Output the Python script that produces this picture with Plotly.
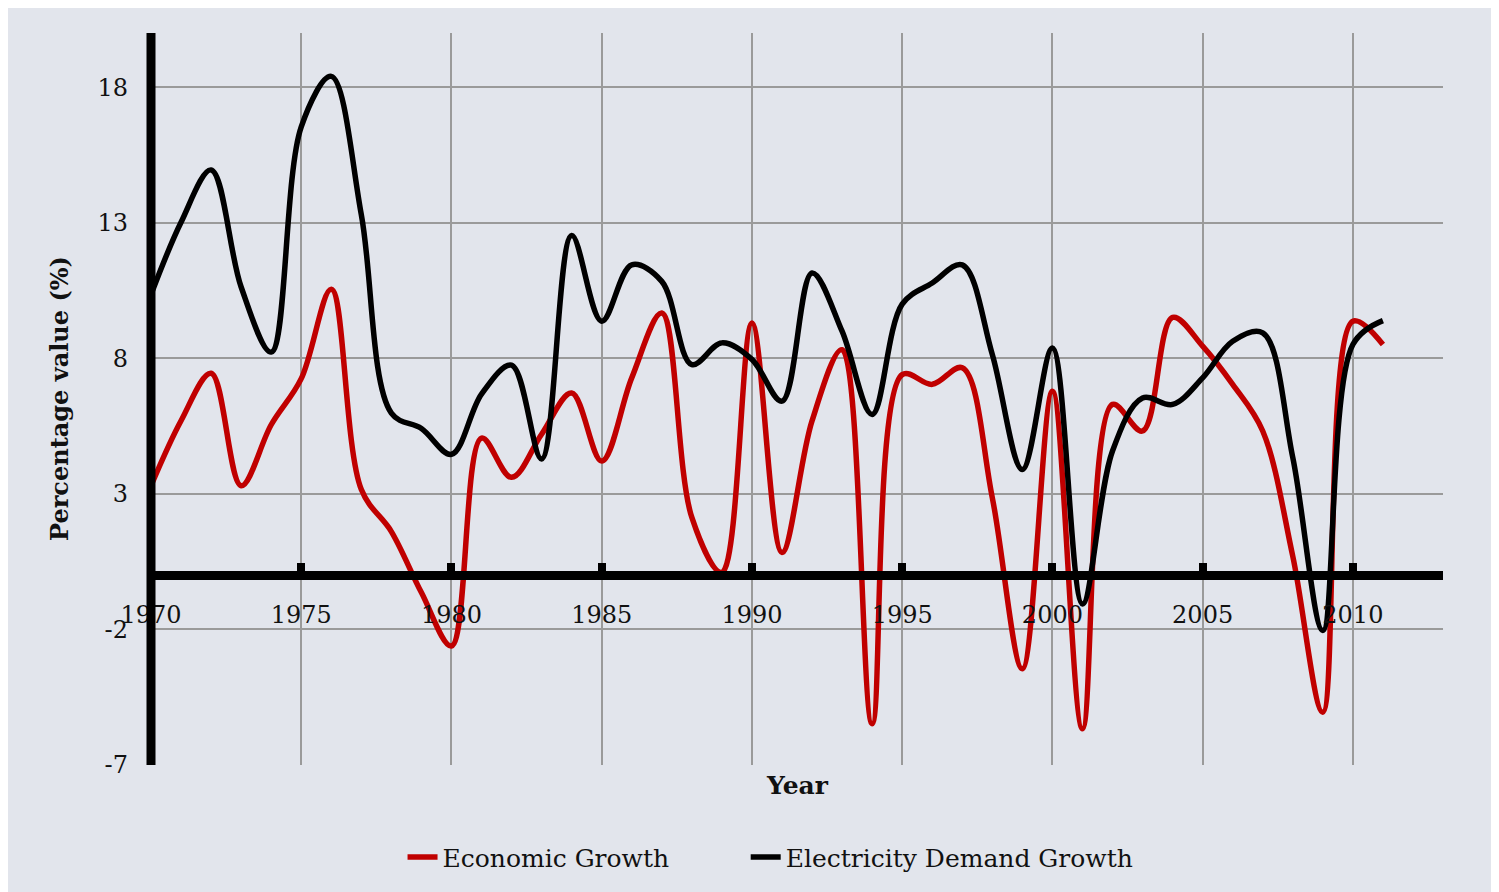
import plotly.graph_objects as go

years = list(range(1970, 2012))
economic_growth = [3.3, 5.7, 7.45, 3.3, 5.55, 7.25, 10.55, 3.16, 1.61, -0.64,
                   -2.61, 5.06, 3.61, 5.2, 6.72, 4.21, 7.28, 9.67, 2.13, 0.1,
                   9.3, 0.84, 5.69, 8.32, -5.48, 7.4, 7.04, 7.65, 2.86, -3.45,
                   6.79, -5.66, 6.3, 5.32, 9.51, 8.45, 7.04, 5.32, 0.7, -5.05,
                   9.37, 8.51]
electricity_growth = [10.35, 13.02, 14.95, 10.63, 8.23, 16.54, 18.4, 13.3, 5.98, 5.41,
                      4.46, 6.68, 7.75, 4.29, 12.53, 9.37, 11.45, 10.84, 7.77, 8.57,
                      7.96, 6.42, 11.15, 9.0, 5.93, 10.0, 10.78, 11.45, 8.14, 3.9,
                      8.38, -1.06, 4.58, 6.54, 6.3, 7.28, 8.63, 8.94, 4.34, -2.04,
                      8.51, 9.39]
y_ticks = [-7, -2, 3, 8, 13, 18]
y_tick_labels = ["-7", "-2", "3", "8", "13", "18"]
x_ticks = list(range(1970, 2011, 5))

BG = "#e2e5ec"
FONT = "DejaVu Serif"
NBSP = "\u00a0"

fig = go.Figure()
fig.add_trace(go.Scatter(x=years, y=economic_growth, mode="lines", name="Economic Growth" + NBSP * 9,
                         line=dict(color="#c00000", width=5.5, shape="spline", smoothing=1.0)))
fig.add_trace(go.Scatter(x=years, y=electricity_growth, mode="lines", name="Electricity Demand Growth",
                         line=dict(color="#000000", width=5.5, shape="spline", smoothing=1.0)))

ymin, ymax = -7, 20
fig.update_layout(
    width=1499, height=892,
    paper_bgcolor=BG, plot_bgcolor=BG,
    margin=dict(l=143, r=64, t=25, b=135),
    font=dict(family=FONT, size=24, color="#111111"),
    showlegend=True,
    legend=dict(orientation="h", xref="container", yref="container", x=0.5087, y=0.048,
                xanchor="center", yanchor="middle", font=dict(family=FONT, size=25, color="#111111"),
                bgcolor="rgba(0,0,0,0)", tracegroupgap=0),
    xaxis=dict(range=[1970, 2013], tickvals=x_ticks, showgrid=True, gridcolor="#9a9a9a", gridwidth=1.5,
               anchor="free", position=(0 - ymin) / (ymax - ymin),
               showline=True, linecolor="#000000", linewidth=9,
               ticks="inside", ticklen=8, tickwidth=8, tickcolor="#000000",
               ticklabelstandoff=14, zeroline=False,
               tickfont=dict(family=FONT, size=24, color="#111111")),
    yaxis=dict(range=[ymin, ymax], tickvals=y_ticks, ticktext=y_tick_labels,
               showgrid=True, gridcolor="#9a9a9a", gridwidth=1.5,
               showline=False, zeroline=False,
               ticks="", ticklabelstandoff=22,
               tickfont=dict(family=FONT, size=24, color="#111111")),
    shapes=[dict(type="line", xref="paper", yref="paper", x0=0, x1=0, y0=0, y1=1,
                 line=dict(color="#000000", width=9), layer="above")],
    annotations=[
        dict(text="<b>Year</b>", xref="paper", yref="paper", x=0.5, y=0, yshift=-20,
             showarrow=False, yanchor="middle", font=dict(family=FONT, size=25, color="#111111")),
        dict(text="<b>Percentage value (%)</b>", xref="paper", yref="paper", x=0, xshift=-92,
             y=0.5, showarrow=False, textangle=-90, xanchor="center", yanchor="middle",
             font=dict(family=FONT, size=24, color="#111111")),
    ],
)

fig.write_html("out.html")
